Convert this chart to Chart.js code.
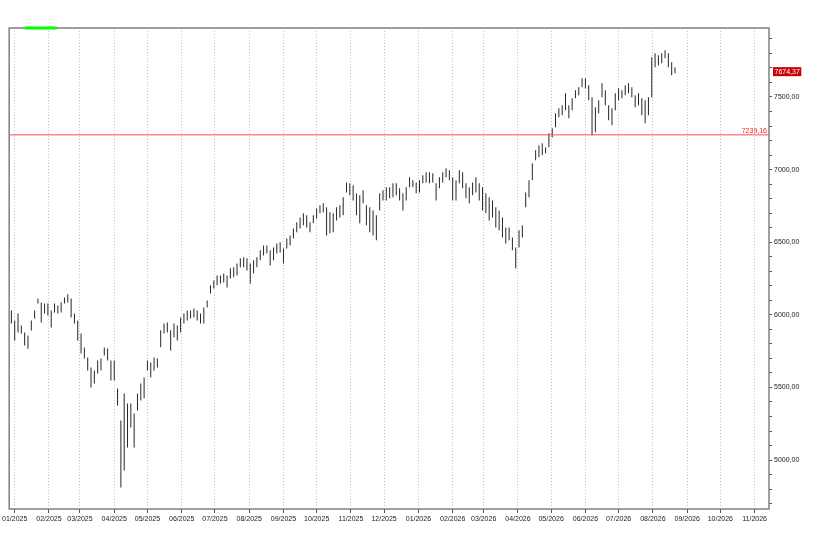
<!DOCTYPE html>
<html>
<head>
<meta charset="utf-8">
<script src="https://cdn.jsdelivr.net/npm/chart.js@4.4.0/dist/chart.umd.min.js"></script>
<style>
html, body { margin: 0; padding: 0; background: #fff; }
#wrap { width: 818px; height: 546px; }
</style>
</head>
<body>
<div id="wrap"><canvas id="myChart" width="818" height="546"></canvas></div>
<script>
// x axis is in calendar days counted from 01/01/2025
const monthDays = [0, 31, 59, 90, 120, 151, 181, 212, 243, 273, 304, 334,
    365, 396, 424, 455, 485, 516, 546, 577, 608, 638, 669];
const monthLabels = ['01/2025', '02/2025', '03/2025', '04/2025', '05/2025', '06/2025',
    '07/2025', '08/2025', '09/2025', '10/2025', '11/2025', '12/2025',
    '01/2026', '02/2026', '03/2026', '04/2026', '05/2026', '06/2026',
    '07/2026', '08/2026', '09/2026', '10/2026', '11/2026'];

// one bar every 3 calendar days, first one on 29/12/2024
const firstDay = -3;
const dayStep = 3;

const highs = [
    6030, 5961, 6010, 5927, 5879, 5858, 5961, 6030, 6113, 6085,
    6078, 6078, 6030, 6078, 6065, 6085, 6120, 6141, 6113, 6010,
    5961, 5872, 5775, 5706, 5638, 5616, 5685, 5699, 5775, 5768,
    5685, 5685, 5493, 5272, 5458, 5390, 5390, 5320, 5458, 5527,
    5569, 5685, 5672, 5706, 5699, 5893, 5941, 5948, 5893, 5941,
    5927, 5982, 6010, 6030, 6030, 6044, 6030, 6010, 6051, 6099,
    6203, 6237, 6271, 6271, 6285, 6271, 6320, 6327, 6354, 6389,
    6396, 6389, 6354, 6375, 6396, 6444, 6478, 6478, 6444, 6464,
    6492, 6499, 6457, 6526, 6547, 6595, 6637, 6671, 6699, 6685,
    6637, 6685, 6733, 6754, 6768, 6740, 6706, 6699, 6740, 6754,
    6809, 6912, 6906, 6892, 6837, 6823, 6857, 6754, 6740, 6719,
    6685, 6837, 6857, 6878, 6878, 6906, 6906, 6871, 6837, 6878,
    6947, 6926, 6912, 6926, 6961, 6981, 6981, 6974, 6906, 6947,
    6981, 7009, 6995, 6947, 6926, 6995, 6981, 6906, 6878, 6912,
    6947, 6906, 6878, 6837, 6809, 6788, 6740, 6719, 6671, 6602,
    6602, 6533, 6464, 6582, 6616, 6843, 6926, 7043, 7133, 7167,
    7181, 7153, 7250, 7284, 7388, 7422, 7443, 7525, 7443, 7491,
    7546, 7567, 7629, 7629, 7580, 7498, 7430, 7477, 7594, 7546,
    7443, 7422, 7525, 7560, 7546, 7580, 7594, 7567, 7512, 7525,
    7491, 7477, 7498, 7774, 7801, 7787, 7801, 7822, 7801, 7739,
    7705
];
const lows = [
    5940, 5823, 5879, 5872, 5789, 5767, 5892, 5975, 6078, 5948,
    6010, 5996, 5913, 6016, 6010, 6016, 6078, 6085, 5982, 5940,
    5823, 5734, 5699, 5616, 5500, 5528, 5596, 5616, 5720, 5685,
    5548, 5548, 5376, 4811, 4928, 5087, 5225, 5087, 5341, 5410,
    5425, 5616, 5569, 5616, 5637, 5776, 5872, 5879, 5754, 5844,
    5823, 5879, 5941, 5961, 5975, 5982, 5961, 5941, 5941, 6051,
    6147, 6182, 6203, 6216, 6223, 6189, 6251, 6258, 6271, 6327,
    6327, 6306, 6216, 6285, 6327, 6375, 6409, 6423, 6340, 6375,
    6423, 6430, 6354, 6457, 6478, 6526, 6568, 6595, 6616, 6602,
    6568, 6630, 6664, 6699, 6706, 6547, 6561, 6568, 6650, 6671,
    6685, 6843, 6823, 6788, 6685, 6630, 6768, 6616, 6568, 6547,
    6513, 6719, 6788, 6788, 6802, 6809, 6823, 6788, 6719, 6788,
    6878, 6878, 6837, 6843, 6906, 6912, 6906, 6912, 6788, 6871,
    6912, 6947, 6926, 6788, 6788, 6906, 6871, 6802, 6768, 6823,
    6843, 6788, 6719, 6699, 6650, 6671, 6602, 6582, 6533, 6492,
    6513, 6444, 6320, 6464, 6533, 6740, 6809, 6926, 7064, 7085,
    7098, 7112, 7154, 7222, 7291, 7360, 7374, 7408, 7353, 7408,
    7491, 7512, 7567, 7560, 7477, 7236, 7257, 7388, 7498, 7443,
    7340, 7305, 7408, 7477, 7491, 7512, 7525, 7498, 7429, 7443,
    7374, 7319, 7374, 7498, 7705, 7718, 7732, 7767, 7705, 7649,
    7663
];

const lastClose = 7674.37;
const levelLine = 7239.16;
const markerDays = [9, 38];   // green mark on the top border

const xMin = -5, xMax = 682;
const yMin = 4663, yMax = 7975;

const fmt = v => v.toFixed(2).replace('.', ',');
const font = { family: 'Liberation Sans, Arial, sans-serif', size: 7 };

const bars = highs.map((h, i) => ({ x: firstDay + i * dayStep, y: [lows[i], h] }));

// frame under the bars, then labels for the level line and the last price
const extras = {
    id: 'extras',
    beforeDatasetsDraw(chart) {
        const { ctx, chartArea: a } = chart;
        ctx.save();
        ctx.strokeStyle = '#808080';
        ctx.lineWidth = 1.5;
        ctx.strokeRect(a.left, a.top, a.right - a.left, a.bottom - a.top);
        ctx.restore();
    },
    afterDraw(chart) {
        const { ctx, chartArea: a, scales: { y } } = chart;
        ctx.save();
        ctx.font = '7px "Liberation Sans", Arial, sans-serif';
        const ly = y.getPixelForValue(levelLine);
        ctx.fillStyle = '#ff2020';
        ctx.textAlign = 'right';
        ctx.textBaseline = 'bottom';
        ctx.fillText(fmt(levelLine), a.right - 2, ly - 0.5);

        const cy = y.getPixelForValue(lastClose);
        const txt = fmt(lastClose);
        const w = ctx.measureText(txt).width + 3;
        ctx.fillStyle = '#cc0000';
        ctx.fillRect(a.right + 4, cy - 4.5, w, 9);
        ctx.fillStyle = '#ffffff';
        ctx.textAlign = 'left';
        ctx.textBaseline = 'middle';
        ctx.fillText(txt, a.right + 5.5, cy + 0.5);
        ctx.restore();
    }
};

const ctx = document.getElementById('myChart').getContext('2d');
const myChart = new Chart(ctx, {
    type: 'bar',
    data: {
        datasets: [
            {
                type: 'line',
                data: [{ x: xMin, y: levelLine }, { x: xMax, y: levelLine }],
                borderColor: '#ff4a4a',
                borderWidth: 1,
                pointRadius: 0
            },
            {
                data: bars,
                backgroundColor: '#262626',
                barThickness: 1,
                inflateAmount: 0,
                grouped: false
            },
            {
                type: 'line',
                data: markerDays.map(d => ({ x: d, y: yMax })),
                borderColor: '#00ff00',
                borderWidth: 3,
                pointRadius: 0,
                clip: false
            }
        ]
    },
    options: {
        responsive: false,
        animation: false,
        layout: { padding: { left: 7, top: 28, right: 0, bottom: 0 } },
        plugins: { legend: { display: false }, tooltip: { enabled: false } },
        scales: {
            x: {
                type: 'linear',
                min: xMin,
                max: xMax,
                offset: false,
                afterBuildTicks: s => { s.ticks = monthDays.map(v => ({ value: v })); },
                afterFit: s => { s.height = 37; },
                ticks: {
                    callback: v => monthLabels[monthDays.indexOf(v)],
                    autoSkip: false,
                    maxRotation: 0,
                    font: font,
                    color: '#222',
                    padding: 2
                },
                grid: {
                    offset: false,
                    color: '#c4c4c4',
                    lineWidth: 1,
                    tickLength: 4,
                    tickColor: '#555',
                    tickBorderDash: []
                },
                border: { display: false, dash: [1, 2] }
            },
            y: {
                position: 'right',
                min: yMin,
                max: yMax,
                afterBuildTicks: s => {
                    const t = [];
                    for (let v = 4700; v <= 7900; v += 100) t.push({ value: v });
                    s.ticks = t;
                },
                afterFit: s => { s.width = 49; },
                ticks: {
                    callback: v => (v % 500 === 0 ? fmt(v) : ''),
                    autoSkip: false,
                    font: font,
                    color: '#222',
                    padding: 2
                },
                grid: {
                    drawOnChartArea: false,
                    tickLength: 3,
                    tickColor: '#555'
                },
                border: { display: false }
            }
        }
    },
    plugins: [extras]
});
</script>
</body>
</html>
